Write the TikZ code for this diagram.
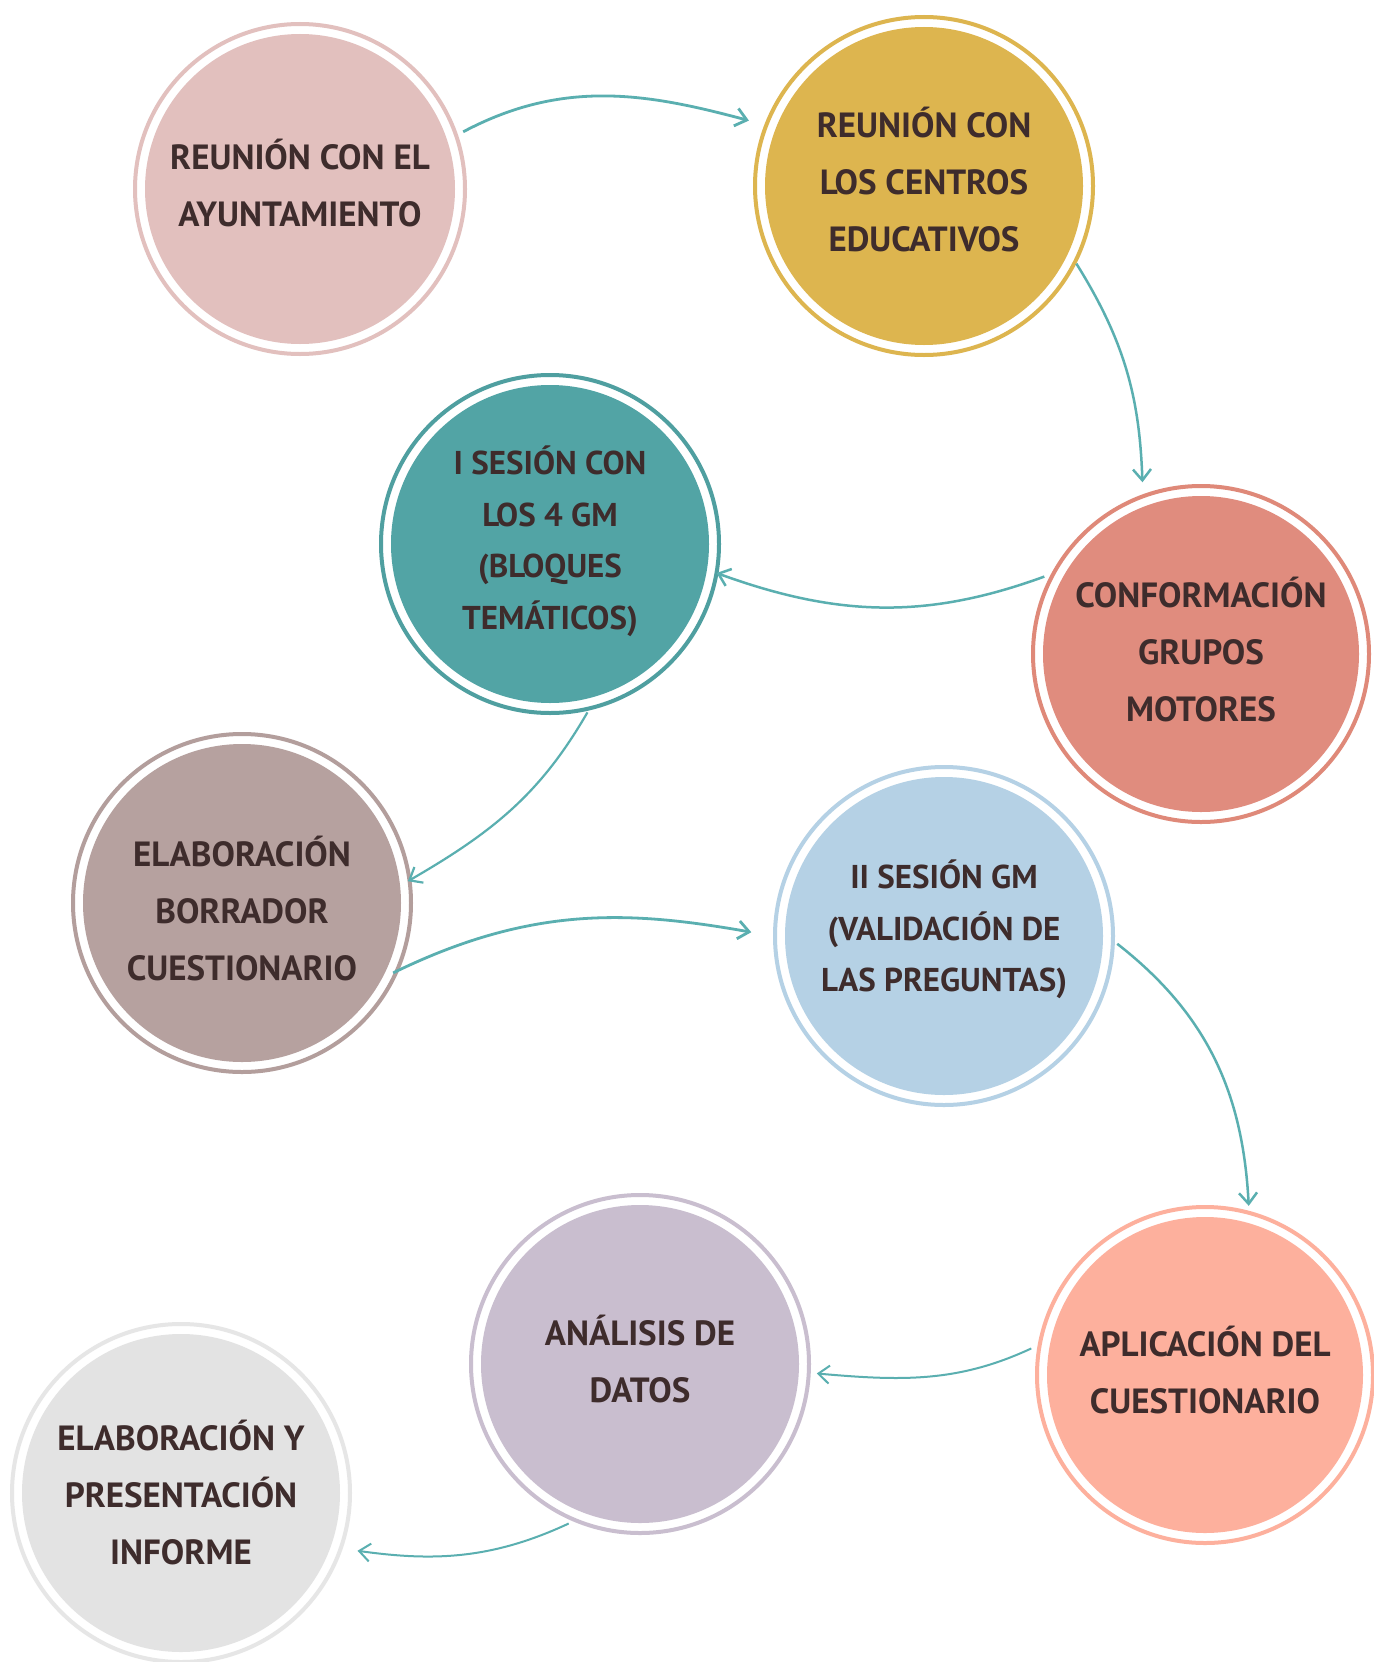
\documentclass[tikz,border=0pt]{standalone}
\usepackage{fontspec}
\setmainfont{PT Sans}
\usetikzlibrary{arrows.meta,calc}
\definecolor{txt}{HTML}{3E2C2C}
\definecolor{arrc}{HTML}{5AAFB0}
\definecolor{f1}{HTML}{E2C0BE}\definecolor{r1}{HTML}{E2C0BE}
\definecolor{f2}{HTML}{DDB54F}\definecolor{r2}{HTML}{DDB54F}
\definecolor{f3}{HTML}{52A4A5}\definecolor{r3}{HTML}{4F9FA0}
\definecolor{f4}{HTML}{E08C7E}\definecolor{r4}{HTML}{DF8979}
\definecolor{f5}{HTML}{B6A19F}\definecolor{r5}{HTML}{B39E9C}
\definecolor{f6}{HTML}{B5D1E5}\definecolor{r6}{HTML}{B5D1E5}
\definecolor{f7}{HTML}{FDB09D}\definecolor{r7}{HTML}{FDB09D}
\definecolor{f8}{HTML}{C9BECF}\definecolor{r8}{HTML}{C9BECF}
\definecolor{f9}{HTML}{E3E3E3}\definecolor{r9}{HTML}{E6E6E6}
\tikzset{
  stage/.style n args={4}{circle, draw=#2, fill=white, line width=4pt,
    minimum size=#3, inner sep=0pt,
    path picture={\fill[#1] (path picture bounding box.center) circle (#4);},
    align=center, text=txt},
  bigtxt/.style={font=\fontsize{35}{57}\selectfont\bfseries},
  smalltxt/.style={font=\fontsize{33}{51.5}\selectfont\bfseries},
  arr/.style={draw=arrc, line width=2.5pt, -{Straight Barb[length=11pt,width=18pt]}},
}
\begin{document}
\begin{tikzpicture}[x=1pt,y=-1pt]
\useasboundingbox (0,0) rectangle (1373,1662);
\fill[white] (0,0) rectangle (1373,1662);

\node[stage={f1}{r1}{330pt}{155pt}, bigtxt, text depth=12pt] (n1) at (300,189) {REUNIÓN CON EL\\AYUNTAMIENTO};
\node[stage={f2}{r2}{338pt}{159pt}, bigtxt, text depth=14pt] (n2) at (924,186) {REUNIÓN CON\\LOS CENTROS\\EDUCATIVOS};
\node[stage={f3}{r3}{338pt}{159pt}, smalltxt, text depth=13pt] (n3) at (550,544) {I SESIÓN CON\\LOS 4 GM\\(BLOQUES\\TEMÁTICOS)};
\node[stage={f4}{r4}{336pt}{158pt}, bigtxt, text depth=10pt] (n4) at (1201,654) {CONFORMACIÓN\\GRUPOS\\MOTORES};
\node[stage={f5}{r5}{338pt}{159pt}, bigtxt, text depth=0pt] (n5) at (242,903) {\rule{0pt}{40pt}ELABORACIÓN\\BORRADOR\\CUESTIONARIO};
\node[stage={f6}{r6}{338pt}{159pt}, smalltxt, text depth=20pt] (n6) at (944,936) {II SESIÓN GM\\(VALIDACIÓN DE\\LAS PREGUNTAS)};
\node[stage={f7}{r7}{336pt}{158pt}, bigtxt, text depth=10pt] (n7) at (1205,1375) {APLICACIÓN DEL\\CUESTIONARIO};
\node[stage={f8}{r8}{338pt}{159pt}, bigtxt, text depth=10pt] (n8) at (640,1364) {ANÁLISIS DE\\DATOS};
\node[stage={f9}{r9}{338pt}{159pt}, bigtxt] (n9) at (181,1493) {ELABORACIÓN Y\\PRESENTACIÓN\\INFORME};

\draw[arr, line width=2.8pt, shorten <=6pt, shorten >=16pt] (n1.19) to[out=28,in=165] (n2.159);
\draw[arr, shorten <=0pt, shorten >=12pt] (n2.-27) to[out=-58,in=92] (n4.110);
\draw[arr, shorten <=7pt, shorten >=-2pt] (n4.152) to[out=-160,in=-20] (n3.-10);
\draw[arr, line width=2.2pt, shorten <=2pt, shorten >=-4pt] (n3.-77) to[out=-120,in=30] (n5.8);
\draw[arr, line width=2.8pt, shorten <=-7pt, shorten >=22pt] (n5.-23) to[out=26,in=170] (n6.180);
\draw[arr, shorten <=3pt, shorten >=5pt] (n6.-2) to[out=-38,in=93] (n7.75);
\draw[arr, line width=2pt, shorten <=7pt, shorten >=6pt] (n7.170) to[out=-155,in=-5] (n8.-3);
\draw[arr, line width=2pt, shorten <=5pt, shorten >=15pt] (n8.-113) to[out=205,in=-8] (n9.-19);
\end{tikzpicture}
\end{document}
